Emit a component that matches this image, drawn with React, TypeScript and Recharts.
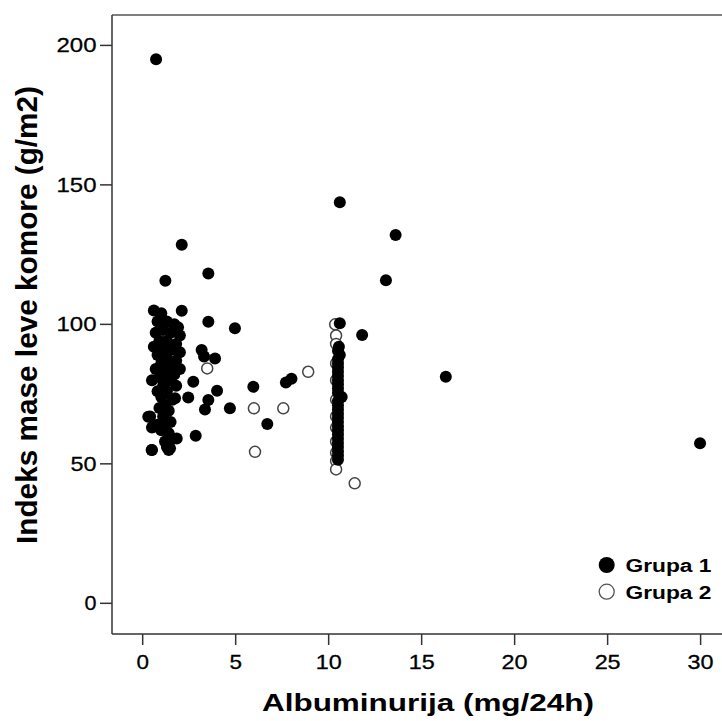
import React from "react";
import {
  ReferenceLine,
  Scatter,
  ScatterChart,
  XAxis,
  YAxis,
} from "recharts";

// Grupa 1 (filled dots): [albuminurija, indeks]
const grupa1X = [
  0.6, 1.0, 0.8, 1.3, 1.7, 1.9, 1.1, 0.7, 1.5, 2.0, 0.9, 1.3, 1.8, 0.6, 1.1, 1.6, 2.0, 0.8, 1.3, 1.8,
  1.0, 1.5, 0.7, 2.0, 1.2, 1.7, 0.9, 0.5, 1.4, 1.1, 1.8, 0.8, 1.3, 1.0, 1.6, 1.2, 0.9, 1.4, 1.1, 0.4,
  1.5, 0.8, 1.2, 0.5, 1.0, 1.4, 1.6, 1.2, 1.3, 0.5, 1.4,
  0.72, 2.1, 3.53, 1.22, 2.1, 3.53, 4.96, 3.17, 3.89, 3.3, 2.72, 4.0, 5.95, 2.45, 1.74, 3.53, 3.35,
  4.69, 2.85, 1.83, 1.47, 0.48, 0.3, 0.57, 6.7, 7.7, 8.0, 10.6, 13.6, 13.08, 11.8, 16.3, 29.97,
  10.6, 10.55, 10.5, 10.6, 10.5, 10.5, 10.5, 10.5, 10.5, 10.5, 10.5, 10.5, 10.5, 10.7, 10.5,
  10.5, 10.5, 10.5, 10.5, 10.5, 10.5, 10.5, 10.5, 10.5, 10.5, 10.5, 10.5, 10.5, 10.5,
];
const grupa1Y = [
  105, 104, 101, 101, 100, 99, 98, 97, 97, 96, 94, 94, 93, 92, 91, 91, 90, 89, 88, 87,
  86, 85, 84, 84, 83, 82, 81, 80, 80, 78, 78, 76, 76, 74, 73, 71, 70, 69, 67, 67,
  65, 64, 63, 63, 62, 61, 59, 58, 56, 55, 55,
  195, 128.5, 118.2, 115.6, 104.9, 100.9, 98.6, 90.8, 87.8, 88.5, 79.4, 76.2, 77.6, 73.8, 73.5, 72.9,
  69.5, 69.9, 60.1, 59.1, 55.6, 55, 66.9, 63.3, 64.3, 79.2, 80.5, 143.8, 132, 115.8, 96.2, 81.2, 57.4,
  100.4, 92, 90.5, 89, 87.5, 86, 84.5, 83, 81.5, 80, 78.5, 77, 75.5, 74, 72.5,
  71, 69.5, 68, 66.5, 65, 63.5, 62, 60.5, 59, 57.5, 56, 54.5, 53, 51.5,
];

// Grupa 2 (open circles)
const grupa2X = [3.47, 5.98, 6.04, 7.56, 8.9, 10.35, 10.4, 10.4, 10.4, 10.4, 10.4, 10.4, 10.4, 10.4, 10.4, 10.4, 10.4, 11.4];
const grupa2Y = [84.2, 69.9, 54.3, 69.9, 83, 100, 96, 93, 86, 80, 73, 67, 63, 58, 54, 51, 48, 43];

const xTicks = [0, 5, 10, 15, 20, 25, 30];
const yTicks = [0, 50, 100, 150, 200];

const X_MIN = -1.65;
const X_MAX = 31.15;
const Y_MIN = -11;
const Y_MAX = 210.9;

const grupa1 = grupa1X.map((x, i) => ({ x, y: grupa1Y[i] }));
const grupa2 = grupa2X.map((x, i) => ({ x, y: grupa2Y[i] }));

const FONT = "'Liberation Sans', Arial, sans-serif";

const FilledDot = (props: any) => <circle cx={props.cx} cy={props.cy} r={6} fill="#000" />;
const OpenDot = (props: any) => (
  <circle cx={props.cx} cy={props.cy} r={5.5} fill="#fff" stroke="#444" strokeWidth={1.5} />
);

const YTick = ({ x, y, payload }: any) => {
  const s = String(payload.value);
  return (
    <text
      x={x - 1.5}
      y={y + 7}
      textAnchor="end"
      fontFamily={FONT}
      fontSize={21}
      fill="#000"
      stroke="#000"
      strokeWidth={0.3}
      textLength={s.length * 14 - 2}
      lengthAdjust="spacingAndGlyphs"
    >
      {s}
    </text>
  );
};

const XTick = ({ x, y, payload }: any) => {
  const s = String(payload.value);
  return (
    <text
      x={x}
      y={y + 22}
      textAnchor="middle"
      fontFamily={FONT}
      fontSize={21}
      fill="#000"
      stroke="#000"
      strokeWidth={0.3}
      textLength={s.length * 13.5 - 1}
      lengthAdjust="spacingAndGlyphs"
    >
      {s}
    </text>
  );
};

const XTitle = () => (
  <text
    x={428}
    y={711}
    textAnchor="middle"
    fontFamily={FONT}
    fontWeight="bold"
    fontSize={24}
    fill="#000"
    textLength={332}
    lengthAdjust="spacingAndGlyphs"
  >
    Albuminurija (mg/24h)
  </text>
);

const YTitle = () => (
  <text
    transform="translate(37, 315) rotate(-90) scale(1, 1.25)"
    textAnchor="middle"
    fontFamily={FONT}
    fontWeight="bold"
    fontSize={24}
    fill="#000"
    textLength={458}
    lengthAdjust="spacingAndGlyphs"
  >
    Indeks mase leve komore (g/m2)
  </text>
);

const GroupLegend = () => (
  <svg width={132} height={60} style={{ position: "absolute", left: 590, top: 550 }}>
    <circle cx={16.7} cy={15} r={8} fill="#000" />
    <circle cx={16.7} cy={41.7} r={7.5} fill="#fff" stroke="#555" strokeWidth={1.3} />
    <text x={35.5} y={22} fontFamily={FONT} fontWeight="bold" fontSize={17.5} fill="#000" textLength={86} lengthAdjust="spacingAndGlyphs">
      Grupa 1
    </text>
    <text x={35.5} y={48.5} fontFamily={FONT} fontWeight="bold" fontSize={17.5} fill="#000" textLength={86} lengthAdjust="spacingAndGlyphs">
      Grupa 2
    </text>
  </svg>
);

export default function App() {
  return (
    <div style={{ position: "absolute", left: 0, top: 0, width: 722, height: 721, overflow: "hidden", background: "#fff" }}>
      <ScatterChart width={722} height={721} margin={{ top: 15, right: 0, bottom: 0, left: 0 }}>
        <XAxis
          type="number"
          dataKey="x"
          domain={[X_MIN, X_MAX]}
          ticks={xTicks}
          height={87}
          tickSize={11}
          tick={<XTick />}
          axisLine={{ stroke: "#333", strokeWidth: 1.5 }}
          tickLine={{ stroke: "#333", strokeWidth: 1.5 }}
          label={<XTitle />}
        />
        <YAxis
          type="number"
          dataKey="y"
          domain={[Y_MIN, Y_MAX]}
          ticks={yTicks}
          width={112}
          tickSize={12}
          tick={<YTick />}
          axisLine={{ stroke: "#333", strokeWidth: 1.5 }}
          tickLine={{ stroke: "#333", strokeWidth: 1.5 }}
          label={<YTitle />}
        />
        <ReferenceLine y={Y_MAX} stroke="#555" strokeWidth={1.5} />
        <Scatter name="Grupa 2" data={grupa2} shape={OpenDot} isAnimationActive={false} />
        <Scatter name="Grupa 1" data={grupa1} shape={FilledDot} isAnimationActive={false} />
      </ScatterChart>
      <GroupLegend />
    </div>
  );
}
